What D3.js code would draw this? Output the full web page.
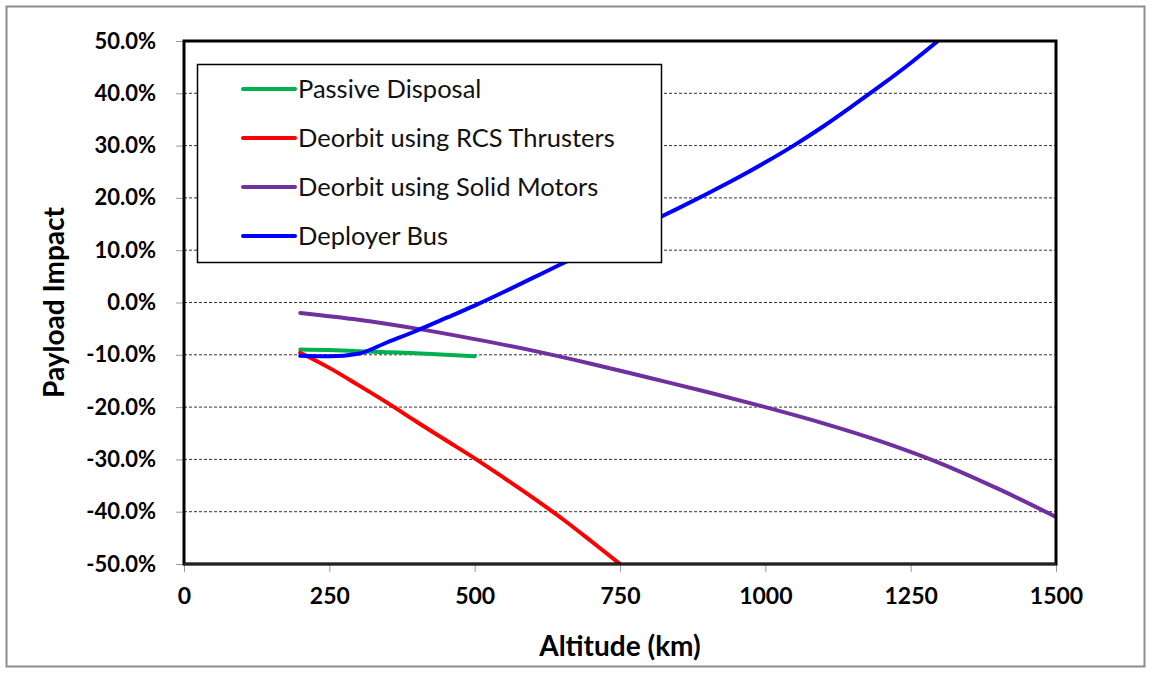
<!DOCTYPE html>
<html lang="en">
<head>
<meta charset="UTF-8">
<title>Payload Impact vs Altitude</title>
<script src="https://cdn.jsdelivr.net/npm/d3@7"></script>
<style>
  body { margin: 0; background: #fff; }
  text { font-family: Lato, "Open Sans", sans-serif; }
</style>
</head>
<body>
<script>
// data (altitude km, payload impact %)
var passiveAlt = [200, 250, 300, 350, 400, 450, 500];
var passiveVal = [-9.0, -9.1, -9.3, -9.5, -9.7, -10.0, -10.3];

var rcsAlt = [200, 250, 300, 350, 400, 450, 500, 550, 600, 650, 700, 750];
var rcsVal = [-9.6, -12.5, -15.8, -19.2, -22.8, -26.3, -29.8, -33.5, -37.3, -41.3, -45.6, -50.0];

var solidAlt = [200, 300, 400, 500, 600, 700, 800, 900, 1000, 1100, 1200, 1300, 1400, 1500];
var solidVal = [-2.0, -3.3, -5.0, -7.0, -9.2, -11.7, -14.4, -17.1, -20.0, -23.1, -26.6, -30.7, -35.6, -41.0];

var busAlt = [200, 250, 300, 350, 400, 450, 500, 550, 600, 650, 700, 750, 800, 850, 900, 950, 1000, 1050, 1100, 1150, 1200, 1250, 1300];
var busVal = [-10.2, -10.3, -9.8, -7.6, -5.4, -3.0, -0.6, 2.0, 4.7, 7.4, 10.0, 12.6, 15.3, 18.0, 20.8, 23.7, 26.8, 30.1, 33.7, 37.6, 41.6, 45.8, 50.3];

var xTicks = [0, 250, 500, 750, 1000, 1250, 1500];
var yTicks = [50, 40, 30, 20, 10, 0, -10, -20, -30, -40, -50];

var seriesNames = ["Passive Disposal", "Deorbit using RCS Thrusters", "Deorbit using Solid Motors", "Deployer Bus"];
var seriesColors = ["#00b050", "#ff0000", "#7030a0", "#0000ff"];

var width = 1151, height = 673;
var pLeft = 184, pRight = 1056, pTop = 41, pBottom = 564;

var svg = d3.select("body").append("svg").attr("width", width).attr("height", height);

// outer frame
svg.append("rect").attr("x", 6.5).attr("y", 6.5).attr("width", width - 13).attr("height", height - 13)
    .attr("fill", "#fff").attr("stroke", "#8c8c8c").attr("stroke-width", 2);

var x = d3.scaleLinear().domain([0, 1500]).range([pLeft, pRight]);
var y = d3.scaleLinear().domain([-50, 50]).range([pBottom, pTop]);

// grid
svg.append("g").selectAll("line").data(yTicks.filter(function(d) { return d != 50 && d != -50; }))
    .enter().append("line")
    .attr("x1", pLeft).attr("x2", pRight)
    .attr("y1", function(d) { return y(d); }).attr("y2", function(d) { return y(d); })
    .attr("stroke", "#333").attr("stroke-width", 1).attr("stroke-dasharray", "3,2");

// axes
var yAxis = d3.axisLeft(y).tickValues(yTicks).tickSize(8).tickPadding(20)
    .tickFormat(function(d) { return d.toFixed(1) + "%"; });
var gy = svg.append("g").attr("transform", "translate(" + pLeft + ",0)").call(yAxis);
gy.select(".domain").remove();
gy.selectAll("line").attr("stroke", "#999");
gy.selectAll("text").attr("font-size", 22).attr("font-weight", "bold").attr("fill", "#000");

var xAxis = d3.axisBottom(x).tickValues(xTicks).tickSize(8).tickPadding(16).tickFormat(d3.format("d"));
var gx = svg.append("g").attr("transform", "translate(0," + pBottom + ")").call(xAxis);
gx.select(".domain").remove();
gx.selectAll("line").attr("stroke", "#999");
gx.selectAll("text").attr("font-size", 23).attr("font-weight", "bold").attr("fill", "#000");

// clip
svg.append("clipPath").attr("id", "clip").append("rect")
    .attr("x", pLeft).attr("y", pTop).attr("width", pRight - pLeft).attr("height", pBottom - pTop);

var line = d3.line().x(function(d) { return x(d[0]); }).y(function(d) { return y(d[1]); })
    .curve(d3.curveMonotoneX);

var allSeries = [
    d3.zip(passiveAlt, passiveVal),
    d3.zip(rcsAlt, rcsVal),
    d3.zip(solidAlt, solidVal),
    d3.zip(busAlt, busVal)
];

svg.append("g").attr("clip-path", "url(#clip)").selectAll("path").data(allSeries)
    .enter().append("path")
    .attr("d", line)
    .attr("fill", "none")
    .attr("stroke", function(d, i) { return seriesColors[i]; })
    .attr("stroke-width", 4)
    .attr("stroke-linecap", "round");

// plot border
svg.append("rect").attr("x", pLeft).attr("y", pTop).attr("width", pRight - pLeft).attr("height", pBottom - pTop)
    .attr("fill", "none").attr("stroke", "#000").attr("stroke-width", 3);
svg.append("line").attr("x1", pLeft).attr("x2", pRight).attr("y1", pBottom).attr("y2", pBottom)
    .attr("stroke", "#222").attr("stroke-width", 2.5);

// legend
var lg = svg.append("g");
lg.append("rect").attr("x", 197.5).attr("y", 64.5).attr("width", 464).attr("height", 198)
    .attr("fill", "#fff").attr("stroke", "#000").attr("stroke-width", 1.5);
var items = lg.selectAll("g.item").data(seriesNames).enter().append("g")
    .attr("transform", function(d, i) { return "translate(0," + (89 + i * 49) + ")"; });
items.append("line").attr("x1", 243).attr("x2", 295).attr("y1", 0).attr("y2", 0)
    .attr("stroke", function(d, i) { return seriesColors[i]; })
    .attr("stroke-width", 4).attr("stroke-linecap", "round");
items.append("text").attr("x", 298).attr("y", 0).attr("dy", "0.35em")
    .attr("font-size", 25.5).attr("fill", "#111").text(function(d) { return d; });

// axis titles
svg.append("text").attr("x", 620).attr("y", 656).attr("text-anchor", "middle")
    .attr("font-size", 28).attr("font-weight", "bold").text("Altitude (km)");
svg.append("text").attr("transform", "translate(64," + ((pTop + pBottom) / 2) + ") rotate(-90)")
    .attr("text-anchor", "middle").attr("font-size", 28).attr("font-weight", "bold").text("Payload Impact");
</script>
</body>
</html>
